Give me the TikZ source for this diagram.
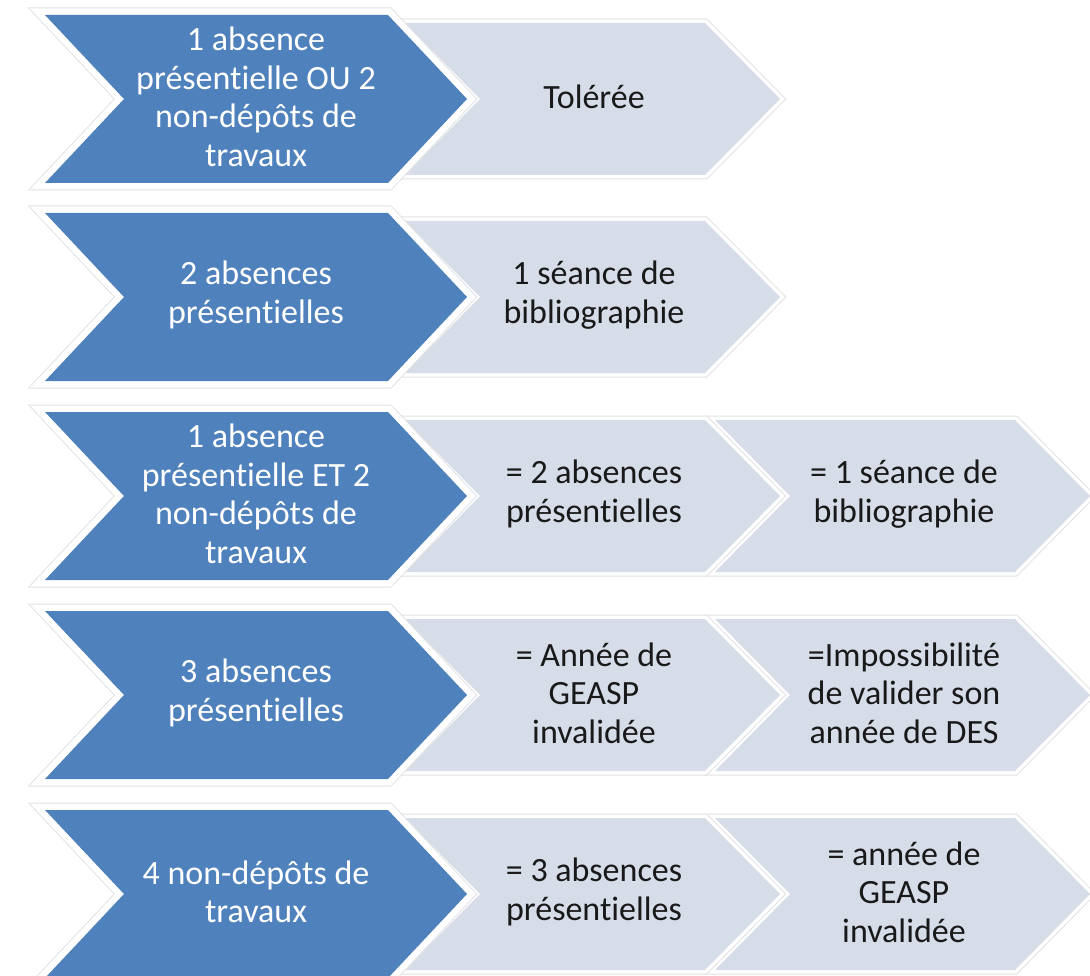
\documentclass[tikz,border=0pt]{standalone}
\usepackage{fontspec}
\setmainfont{Carlito}[Ligatures={NoCommon,NoContextual}]
\definecolor{darkblue}{RGB}{79,129,189}
\definecolor{lightblue}{RGB}{214,220,232}
\definecolor{edgegrey}{RGB}{226,226,226}
\newcommand{\chevpath}[5]{(#1,#4-#5) -- (#1+#3-#2,#4-#5) -- (#1+#3,#4) -- (#1+#3-#2,#4+#5) -- (#1,#4+#5) -- (#1+#2,#4) -- cycle}
\tikzset{
  darkedge/.style={draw=edgegrey, line width=15pt, line join=miter},
  darkrim/.style={draw=white, line width=13pt, line join=miter},
  darkfill/.style={fill=darkblue},
  lightedge/.style={draw=edgegrey, line width=9pt, line join=miter},
  lightrim/.style={draw=white, line width=7pt, line join=miter},
  lightfill/.style={fill=lightblue},
  darktext/.style={text=white, align=center, font=\fontsize{34}{38.5}\selectfont, inner sep=0pt},
  lighttext/.style={text=black!90, align=center, font=\fontsize{34}{38.5}\selectfont, inner sep=0pt}
}
\newcommand{\darkchev}[1]{%
  \path[darkedge] \chevpath{45}{79}{422}{#1}{84};
  \path[darkrim] \chevpath{45}{79}{422}{#1}{84};
  \path[darkfill] \chevpath{45}{79}{422}{#1}{84};}
\newcommand{\lightchev}[2]{%
  \path[lightedge] \chevpath{#1}{75}{375}{#2}{76};
  \path[lightrim] \chevpath{#1}{75}{375}{#2}{76};
  \path[lightfill] \chevpath{#1}{75}{375}{#2}{76};}
\begin{document}
\begin{tikzpicture}[x=1pt, y=-1pt]
\useasboundingbox[fill=white] (0,0) rectangle (1090,976);
% row 1
\lightchev{405}{99}
\darkchev{99}
\node[darktext] (d1) at (256,97) {1 absence\\présentielle OU 2\\non-dépôts de\\travaux};
\node[lighttext] (a1) at (594,97) {Tolérée};
% row 2
\lightchev{405}{297}
\darkchev{297}
\node[darktext] (d2) at (256,295) {2 absences\\présentielles};
\node[lighttext] (a2) at (594,295) {1 séance de\\bibliographie};
% row 3
\lightchev{715}{496}
\lightchev{405}{496}
\darkchev{496}
\node[darktext] (d3) at (256,494) {1 absence\\présentielle ET 2\\non-dépôts de\\travaux};
\node[lighttext] (a3) at (594,494) {= 2 absences\\présentielles};
\node[lighttext] (b3) at (904,494) {= 1 séance de\\bibliographie};
% row 4
\lightchev{715}{695}
\lightchev{405}{695}
\darkchev{695}
\node[darktext] (d4) at (256,693) {3 absences\\présentielles};
\node[lighttext] (a4) at (594,693) {= Année de\\GEASP\\invalidée};
\node[lighttext] (b4) at (904,693) {=Impossibilité\\de valider son\\année de DES};
% row 5
\lightchev{715}{894}
\lightchev{405}{894}
\darkchev{894}
\node[darktext] (d5) at (256,892) {4 non-dépôts de\\travaux};
\node[lighttext] (a5) at (594,892) {= 3 absences\\présentielles};
\node[lighttext] (b5) at (904,892) {= année de\\GEASP\\invalidée};
\end{tikzpicture}
\end{document}
